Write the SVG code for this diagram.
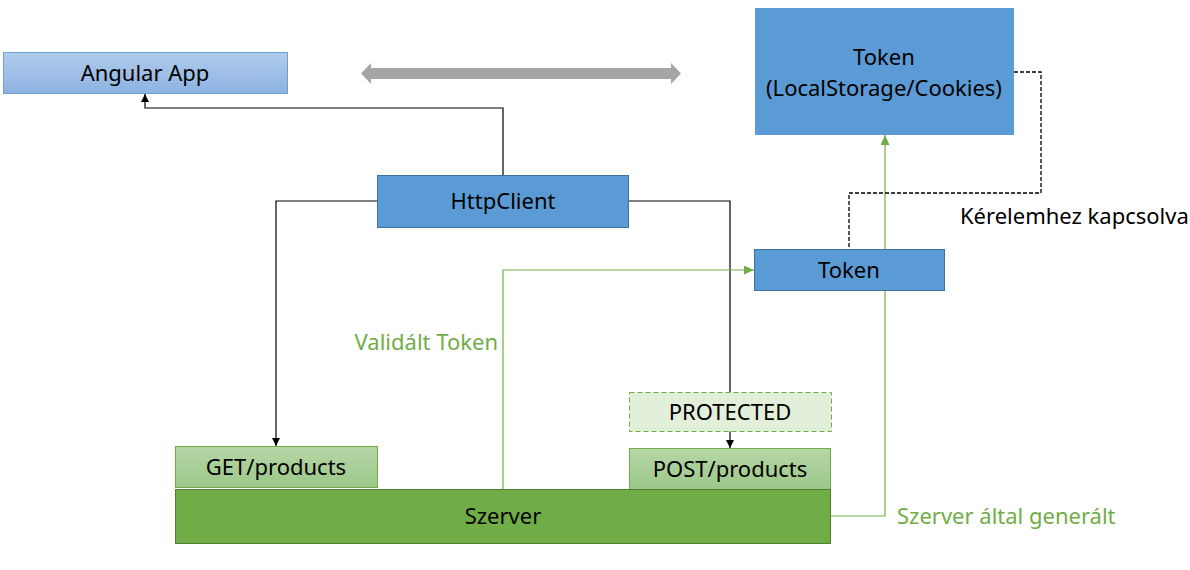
<svg xmlns="http://www.w3.org/2000/svg" width="1190" height="570" viewBox="0 0 1190 570">
<style>
text{font-family:"Noto Sans","Open Sans","Liberation Sans",sans-serif;font-size:22px;fill:#000;text-anchor:middle;dominant-baseline:central}
.g{fill:#70ad47}
.blue{fill:#5b9bd5;stroke:#41719c;stroke-width:1}
.ln{fill:none;stroke:#000;stroke-width:1.2}
.gl{fill:none;stroke:#70ad47;stroke-width:1.2}
</style>
<defs>
<linearGradient id="ga" x1="0" y1="0" x2="0" y2="1"><stop offset="0" stop-color="#b1cbeb"/><stop offset="1" stop-color="#8db3e2"/></linearGradient>
<linearGradient id="gg" x1="0" y1="0" x2="0" y2="1"><stop offset="0" stop-color="#b5d7a6"/><stop offset="1" stop-color="#9cc789"/></linearGradient>
<marker id="ab" markerWidth="8" markerHeight="8" refX="8" refY="4" orient="auto" markerUnits="userSpaceOnUse"><path d="M0,0 L8,4 L0,8 Z" fill="#000"/></marker>
<marker id="ag" markerWidth="10" markerHeight="9" refX="10" refY="4.5" orient="auto" markerUnits="userSpaceOnUse"><path d="M0,0 L10,4.5 L0,9 Z" fill="#70ad47"/></marker>
</defs>
<g id="connectors">
<polyline class="ln" points="503,175 503,108 145,108 145,94" marker-end="url(#ab)"/>
<polyline class="ln" points="377,201 276,201 276,446" marker-end="url(#ab)"/>
<polyline class="ln" points="629,201 730,201 730,392"/>
<line class="ln" x1="730" y1="431" x2="730" y2="448" marker-end="url(#ab)"/>
<polyline class="gl" points="503,489 503,270 754,270" marker-end="url(#ag)"/>
<polyline class="gl" points="831,516 885,516 885,135" marker-end="url(#ag)"/>
<polyline fill="none" stroke="#000" stroke-width="1.3" stroke-dasharray="4,2" points="1014,72 1041,72 1041,193 849,193 849,249"/>
<polygon id="double-arrow" points="361,73.5 371,63 371,68 671,68 671,63 681,73.5 671,84 671,79 371,79 371,84" fill="#a5a5a5"/>
</g>
<g id="angular-app"><rect x="3.5" y="52.5" width="284" height="41" fill="url(#ga)" stroke="#6e9fd4"/><text x="145" y="72">Angular App</text></g>
<g id="token-storage"><rect x="755" y="8" width="259" height="127" fill="#5b9bd5"/><text x="884" y="56">Token</text><text x="884" y="87">(LocalStorage/Cookies)</text></g>
<g id="httpclient"><rect class="blue" x="377.5" y="175.5" width="251" height="52"/><text x="503" y="200">HttpClient</text></g>
<g id="token"><rect class="blue" x="754.5" y="249.5" width="190" height="41"/><text x="849" y="269">Token</text></g>
<g id="protected"><rect x="629.5" y="392.5" width="202" height="39" fill="#e2efda" stroke="#70ad47" stroke-dasharray="5,3"/><text x="730" y="411">PROTECTED</text></g>
<g id="get-products"><rect x="175.5" y="446.5" width="202" height="41" fill="url(#gg)" stroke="#70ad47"/><text x="276" y="466">GET/products</text></g>
<g id="post-products"><rect x="629.5" y="448.5" width="201" height="41" fill="url(#gg)" stroke="#70ad47"/><text x="730" y="468">POST/products</text></g>
<g id="szerver"><rect x="175.5" y="489.5" width="655" height="54" fill="#70ad47" stroke="#507e32"/><text x="503" y="515">Szerver</text></g>
<g id="labels">
<text class="g" x="498" y="341" style="text-anchor:end">Validált Token</text>
<text x="960" y="215" style="text-anchor:start">Kérelemhez kapcsolva</text>
<text class="g" x="897" y="515" style="text-anchor:start">Szerver által generált</text>
</g>
</svg>
